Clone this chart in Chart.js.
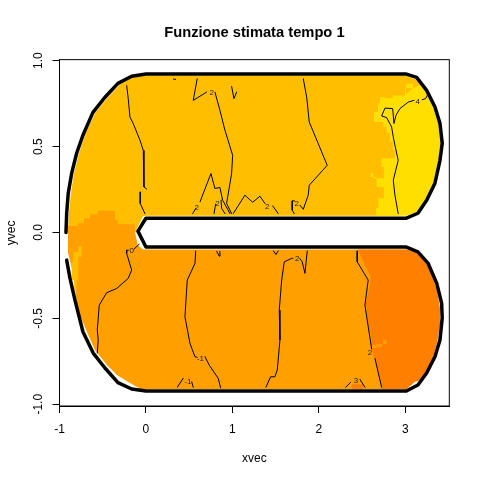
<!DOCTYPE html>
<html>
<head>
<meta charset="utf-8">
<title>Funzione stimata tempo 1</title>
<script src="https://cdn.jsdelivr.net/npm/chart.js"></script>
<style>
  body { margin: 0; background: #fff; }
  canvas { display: block; }
</style>
</head>
<body>
<canvas id="chartFunzione" width="480" height="480"></canvas>
<script>
const xTicks = [-1, 0, 1, 2, 3]
const yTicks = [-1, -0.5, 0, 0.5, 1]

// bordo del dominio a ferro di cavallo
const boundary = [[-.925,0],[-.917,.112],[-.899,.228],[-.859,.345],[-.802,.461],[-.729,.566],[-.613,.699],[-.474,.787],[-.324,.868],[-.165,.909],[0,.922],[3.013,.922],[3.131,.903],[3.247,.827],[3.343,.730],[3.401,.635],[3.427,.519],[3.401,.420],[3.343,.287],[3.247,.188],[3.146,.112],[3.013,.083],[0,.083],[-.093,.008],[0,-.085],[3.013,-.085],[3.146,-.113],[3.262,-.178],[3.363,-.295],[3.420,-.411],[3.427,-.498],[3.401,-.626],[3.343,-.723],[3.247,-.818],[3.146,-.888],[3.013,-.923],[0,-.923],[-.165,-.911],[-.324,-.874],[-.474,-.789],[-.610,-.702],[-.729,-.578],[-.821,-.394],[-.879,-.266],[-.917,-.161]]

// zone di colore
const goldZone = [[-.902,0],[-.891,.112],[-.868,.228],[-.833,.345],[-.775,.461],[-.706,.566],[-.590,.694],[-.451,.781],[-.301,.862],[-.150,.906],[0,.912],[3.008,.912],[3.123,.891],[3.181,.862],[2.938,.098],[0,.098],[-.035,.095],[-.104,.025],[-.116,.002],[-.902,0]]
const yellowEdge = [[3.189,.866],[3.088,.839],[2.996,.798],[2.857,.781],[2.765,.788],[2.707,.752],[2.684,.701],[2.638,.643],[2.745,.614],[2.784,.577],[2.822,.527],[2.857,.478],[2.880,.432],[2.726,.449],[2.726,.381],[2.753,.316],[2.629,.345],[2.599,.323],[2.669,.265],[2.753,.236],[2.753,.199],[2.687,.141],[2.661,.098],[3.008,.098],[3.008,.866],[3.189,.866]]
const yellowCap = [[3.000,.800],[3.088,.839],[3.189,.866],[3.233,.819],[3.326,.729],[3.384,.635],[3.407,.519],[3.384,.420],[3.326,.287],[3.239,.199],[3.146,.121],[3.008,.098],[3.000,.098],[3.000,.800]]
const orangeTop = [[-.902,.037],[-.787,.054],[-.717,.083],[-.648,.106],[-.555,.126],[-.416,.126],[-.359,.072],[-.324,.048],[-.104,.048],[-.127,.002],[-.127,-.050],[-.902,-.050],[-.902,.037]]
const orangeZone = [[-.902,.002],[-.127,.002],[-.093,-.074],[-.035,-.099],[3.008,-.099],[3.008,-.911],[-.058,-.911],[-.185,-.876],[-.335,-.830],[-.451,-.772],[-.590,-.684],[-.682,-.580],[-.787,-.452],[-.844,-.237],[-.902,-.115],[-.902,.002]]
const goldPatch = [[-.783,-.080],[-.744,-.062],[-.744,-.142],[-.783,-.277],[-.802,-.335],[-.829,-.277],[-.859,-.171],[-.841,-.113],[-.783,-.080]]
const darkZone = [[2.452,-.099],[2.495,-.149],[2.553,-.208],[2.599,-.258],[2.583,-.324],[2.545,-.403],[2.560,-.498],[2.599,-.597],[2.611,-.649],[2.629,-.713],[2.687,-.810],[2.726,-.911],[3.016,-.911],[3.112,-.869],[3.189,-.859],[3.262,-.801],[3.320,-.731],[3.370,-.636],[3.401,-.539],[3.401,-.440],[3.370,-.345],[3.316,-.248],[3.254,-.190],[3.189,-.142],[3.146,-.120],[3.016,-.099],[2.452,-.099]]
const orangeSpot = [[2.611,-.655],[2.669,-.655],[2.669,-.649],[2.745,-.649],[2.745,-.626],[2.784,-.626],[2.784,-.649],[2.733,-.649],[2.733,-.665],[2.669,-.665],[2.669,-.673],[2.611,-.673],[2.611,-.655]]
const darkSpot = [[2.379,-.911],[2.379,-.884],[2.513,-.884],[2.513,-.911],[2.379,-.911]]

// linee di livello
const contours = [
  [[-.223,.856],[-.205,.779],[-.185,.672],[-.147,.634],[-.069,.537],[-.031,.478],[-.023,.362],[-.023,.265],[.008,.253]],
  [[-.066,.236],[-.066,.169],[-.012,.110]],
  [[.593,.895],[.547,.769],[.702,.817]],
  [[.798,.817],[.856,.711],[.914,.595],[1.003,.449],[.991,.343],[.933,.169],[.991,.110]],
  [[.540,.110],[.578,.141]],
  [[.625,.178],[.752,.343],[.798,.256],[.856,.262],[.887,.188],[.972,.110]],
  [[.787,.110],[.806,.165]],
  [[.868,.188],[.876,.140],[.914,.110]],
  [[1.010,.110],[1.145,.217],[1.234,.176],[1.319,.211],[1.376,.169]],
  [[1.466,.155],[1.530,.110]],
  [[.991,.851],[1.018,.779],[1.049,.817]],
  [[.316,.893],[.344,.891]],
  [[1.820,.895],[1.859,.788],[1.889,.643],[1.993,.517],[2.097,.391],[1.889,.275],[1.877,.217],[1.820,.135],[1.781,.159]],
  [[1.718,.184],[1.692,.184],[1.692,.130],[1.715,.110]],
  [[3.265,.808],[3.235,.779],[3.196,.773]],
  [[3.100,.769],[3.034,.759],[2.938,.721],[2.892,.682],[2.869,.634],[2.854,.721],[2.765,.724],[2.726,.678],[2.784,.669],[2.842,.614],[2.861,.556],[2.880,.508],[2.918,.420],[2.861,.304],[2.880,.217],[2.918,.110]],
  [[-.078,-.068],[-.139,-.097]],
  [[-.202,-.103],[-.223,-.103],[-.223,-.122],[-.165,-.219],[-.205,-.267],[-.339,-.326],[-.455,-.351],[-.540,-.423],[-.563,-.568],[-.552,-.626],[-.563,-.702]],
  [[.575,-.107],[.567,-.180],[.478,-.277],[.451,-.491],[.509,-.645],[.567,-.723],[.593,-.727]],
  [[.682,-.723],[.732,-.772],[.836,-.849],[.864,-.904]],
  [[.818,-.109],[.848,-.138],[.856,-.109]],
  [[.362,-.901],[.431,-.849]],
  [[.529,-.869],[.547,-.901]],
  [[1.473,-.107],[1.504,-.128],[1.530,-.107]],
  [[1.866,-.107],[1.839,-.238],[1.808,-.171],[1.781,-.152]],
  [[1.700,-.151],[1.685,-.151],[1.600,-.171],[1.570,-.277],[1.542,-.452],[1.550,-.626],[1.519,-.801],[1.492,-.840],[1.442,-.840],[1.388,-.901]],
  [[2.444,-.107],[2.444,-.171],[2.571,-.277],[2.533,-.423],[2.583,-.587],[2.611,-.678]],
  [[2.649,-.733],[2.726,-.901]],
  [[2.310,-.901],[2.368,-.872]],
  [[2.475,-.855],[2.533,-.901]]
]
const contourLabels = [['2',.760,.814],['2',.586,.143],['2',.827,.167],['2',1.403,.149],['2',1.743,.167],['4',3.143,.759],['0',-.165,-.107],['-1',.630,-.734],['-1',.486,-.867],['2',1.750,-.151],['2',2.591,-.700],['3',2.429,-.865]]

const toPoints = lista => lista.map(p => ({ x: p[0], y: p[1] }))

const zona = (lista, colore, stepped) => ({
  data: toPoints(lista),
  showLine: true,
  fill: 'shape',
  backgroundColor: colore,
  borderWidth: 0,
  pointRadius: 0,
  stepped: stepped
})

const linea = (lista, larghezza) => ({
  data: toPoints(lista),
  showLine: true,
  fill: false,
  borderColor: '#000',
  borderWidth: larghezza,
  borderJoinStyle: 'round',
  borderCapStyle: 'round',
  pointRadius: 0
})

// riquadro ed etichette delle curve
const extras = {
  id: 'extras',
  afterDatasetsDraw(chart) {
    const { ctx, chartArea, scales } = chart
    ctx.save()
    ctx.strokeStyle = '#000'
    ctx.lineWidth = 1
    ctx.strokeRect(chartArea.left, chartArea.top, chartArea.width, chartArea.height)
    ctx.fillStyle = '#222'
    ctx.font = '8px "Liberation Sans"'
    ctx.textAlign = 'center'
    ctx.textBaseline = 'middle'
    contourLabels.forEach(l => {
      ctx.fillText(l[0], scales.x.getPixelForValue(l[1]), scales.y.getPixelForValue(l[2]))
    })
    ctx.restore()
  }
}

const context = document.getElementById('chartFunzione').getContext('2d')

const chartFunzione = new Chart(context, {
  type: 'scatter',
  data: {
    datasets: [
      linea(boundary, 3.5),
      ...contours.map(c => linea(c, 1)),
      zona(darkSpot, '#FF8000'),
      zona(orangeSpot, '#FF9F00'),
      zona(darkZone, '#FF8000'),
      zona(goldPatch, '#FFBF00', true),
      zona(orangeTop, '#FF9F00', true),
      zona(orangeZone, '#FF9F00'),
      zona(yellowEdge, '#FFDF00', true),
      zona(yellowCap, '#FFDF00'),
      zona(goldZone, '#FFBF00')
    ]
  },
  plugins: [extras],
  options: {
    responsive: false,
    animation: false,
    layout: { padding: { right: 30.7 } },
    plugins: {
      legend: { display: false },
      tooltip: { enabled: false },
      title: {
        display: true,
        text: 'Funzione stimata tempo 1',
        fullSize: false,
        color: '#000',
        font: { family: '"Liberation Sans"', size: 14.7, weight: 'bold' },
        padding: { top: 24, bottom: 18 }
      }
    },
    scales: {
      x: {
        type: 'linear',
        min: -1,
        max: 3.509,
        afterBuildTicks: s => { s.ticks = xTicks.map(v => ({ value: v })) },
        afterFit: s => { s.height = 74 },
        border: { color: '#000' },
        grid: { drawOnChartArea: false, tickLength: 7, tickColor: '#000' },
        ticks: {
          color: '#000',
          font: { family: '"Liberation Sans"', size: 12 },
          maxRotation: 0,
          padding: 9,
          callback: v => String(v)
        },
        title: {
          display: true,
          text: 'xvec',
          color: '#000',
          font: { family: '"Liberation Sans"', size: 12 },
          padding: { top: 0, bottom: 14 }
        }
      },
      y: {
        type: 'linear',
        min: -1.01,
        max: 1.006,
        afterBuildTicks: s => { s.ticks = yTicks.map(v => ({ value: v })) },
        afterFit: s => { s.width = 59.5 },
        border: { color: '#000' },
        grid: { drawOnChartArea: false, tickLength: 7, tickColor: '#000' },
        ticks: {
          color: '#000',
          font: { family: '"Liberation Sans"', size: 12 },
          minRotation: 90,
          maxRotation: 90,
          crossAlign: 'center',
          padding: 3,
          callback: v => v.toFixed(1)
        },
        title: {
          display: true,
          text: 'yvec',
          color: '#000',
          font: { family: '"Liberation Sans"', size: 12 },
          padding: { top: 4, bottom: 0 }
        }
      }
    }
  }
})
</script>
</body>
</html>
